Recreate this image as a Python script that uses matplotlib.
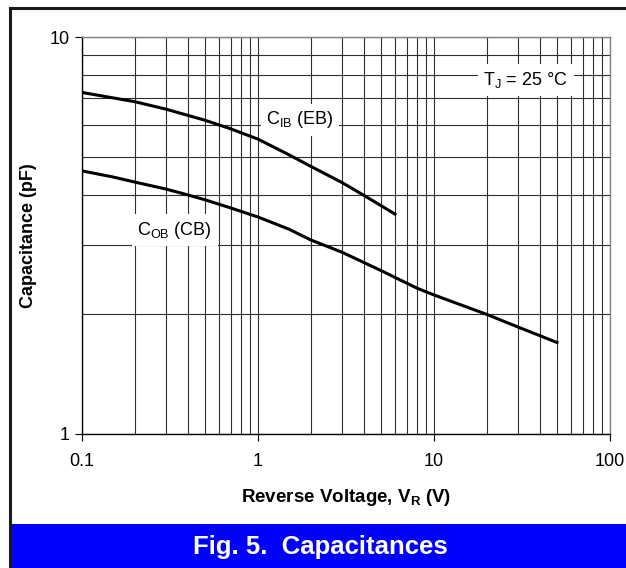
import numpy as np
import matplotlib
matplotlib.use("Agg")
import matplotlib.pyplot as plt
from matplotlib.ticker import LogLocator, NullFormatter, FixedFormatter, FixedLocator
from matplotlib.lines import Line2D
from matplotlib.patches import Rectangle

plt.rcParams["font.family"] = ["Liberation Sans", "DejaVu Sans"]
plt.rcParams["mathtext.default"] = "regular"

# =========================
# DATA
# =========================
vr_cib = [0.1, 0.2, 0.3, 0.5, 0.7, 1, 1.5, 2, 3, 4, 5, 6]
cib = [7.25, 6.87, 6.58, 6.17, 5.87, 5.53, 5.05, 4.72, 4.30, 3.99, 3.76, 3.58]

vr_cob = [0.1, 0.15, 0.2, 0.3, 0.4, 0.5, 0.7, 1, 1.5, 2, 3, 5, 8, 10, 20, 30, 50]
cob = [4.60, 4.44, 4.31, 4.14, 4.00, 3.89, 3.71, 3.52, 3.28, 3.08, 2.87, 2.58,
       2.33, 2.24, 2.00, 1.86, 1.70]

x_ticks = [0.1, 1, 10, 100]
x_tick_labels = ["0.1", "1", "10", "100"]
y_ticks = [1, 10]
y_tick_labels = ["1", "10"]

# =========================
# FIGURE
# =========================
fig = plt.figure(figsize=(6.26, 5.68), dpi=100)
W, H = 626, 568

# blue caption bar + frame
fig.add_artist(Rectangle((10 / W, 0), 1 - 10 / W, 44 / H, transform=fig.transFigure,
                         facecolor="#0000FF", edgecolor="none", zorder=0))
fig.add_artist(Line2D([10 / W, 10 / W], [0, 1 - 8 / H], transform=fig.transFigure,
                      color="#1a1a1a", lw=2.2))
fig.add_artist(Line2D([10 / W, 1], [1 - 8 / H, 1 - 8 / H], transform=fig.transFigure,
                      color="#1a1a1a", lw=2.2))
fig.text(320 / W, 21 / H, "Fig. 5.  Capacitances", color="white", fontsize=18.5,
         fontweight="bold", ha="center", va="center")

ax = fig.add_axes([82 / W, 1 - 434 / H, (610 - 82) / W, (434 - 37) / H])
ax.set_xscale("log")
ax.set_yscale("log")
ax.set_xlim(0.1, 100)
ax.set_ylim(1, 10)

ax.xaxis.set_major_locator(FixedLocator(x_ticks))
ax.xaxis.set_major_formatter(FixedFormatter(x_tick_labels))
ax.yaxis.set_major_locator(FixedLocator(y_ticks))
ax.yaxis.set_major_formatter(FixedFormatter(y_tick_labels))
ax.xaxis.set_minor_locator(LogLocator(base=10, subs=np.arange(2, 10)))
ax.yaxis.set_minor_locator(LogLocator(base=10, subs=np.arange(2, 10)))
ax.xaxis.set_minor_formatter(NullFormatter())
ax.yaxis.set_minor_formatter(NullFormatter())

ax.grid(True, which="both", color="#303030", lw=0.8)
ax.tick_params(which="major", direction="out", length=5, width=0.8, labelsize=13)
ax.tick_params(axis="x", which="major", pad=9)
ax.tick_params(axis="y", which="major", pad=4)
ax.tick_params(which="minor", length=0)

for s in ["left", "bottom"]:
    ax.spines[s].set_color("black")
    ax.spines[s].set_linewidth(1)
for s in ["top", "right"]:
    ax.spines[s].set_color("#808080")
    ax.spines[s].set_linewidth(1)

ax.plot(vr_cib, cib, color="black", lw=2.2, zorder=3)
ax.plot(vr_cob, cob, color="black", lw=2.2, zorder=3)

box = dict(facecolor="white", edgecolor="none", pad=4)
ax.text(1.73, 6.18, "C$_{IB}$ (EB)", fontsize=13, ha="center", va="center", bbox=box, zorder=4)
ax.text(0.337, 3.26, "C$_{OB}$ (CB)", fontsize=13, ha="center", va="center", bbox=box, zorder=4)
ax.text(33.3, 7.79, "T$_{J}$ = 25 °C", fontsize=13, ha="center", va="center", bbox=box, zorder=4)

ax.set_xlabel("Reverse Voltage, V$_{R}$ (V)", fontsize=13.5, fontweight="bold", labelpad=12)
ax.set_ylabel("Capacitance (pF)", fontsize=13, fontweight="bold", labelpad=9)

fig.savefig("out.png", dpi=100)
